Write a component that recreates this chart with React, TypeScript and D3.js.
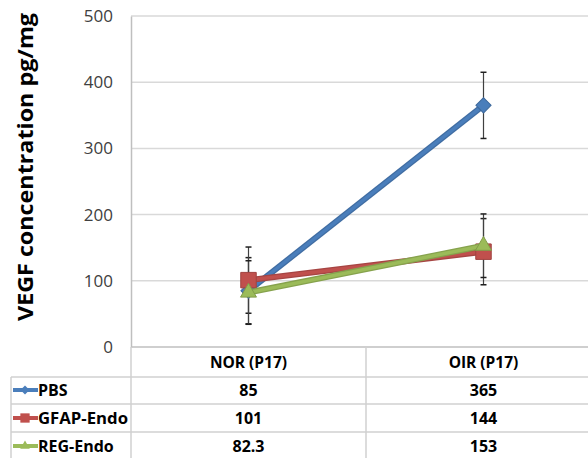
import React, { useEffect, useRef } from "react";
import * as d3 from "d3";

const categories = ["NOR (P17)", "OIR (P17)"];
const seriesNames = ["PBS", "GFAP-Endo", "REG-Endo"];
const pbsValues = [85, 365];
const gfapValues = [101, 144];
const regValues = [82.3, 153];
const pbsErrors = [50, 50];
const gfapErrors = [50, 50];
const regErrors = [48, 48];
const yTicks = [0, 100, 200, 300, 400, 500];
const colors = ["#4a7ebb", "#c0504d", "#9bbb59"];
const markers = ["diamond", "square", "triangle"];

const App = () => {
  const svgRef = useRef<SVGSVGElement>(null);

  useEffect(() => {
    const width = 588, height = 458;
    const left = 131, top = 16, bottom = 347;
    const font = "'Open Sans', sans-serif";

    const svg = d3.select(svgRef.current)
      .attr("width", width)
      .attr("height", height);
    svg.selectAll("*").remove();

    const x = d3.scaleBand().domain(categories).range([left, 601]);
    const y = d3.scaleLinear().domain([0, 500]).range([bottom, top]);
    const cx = (c: string) => (x(c) as number) + x.bandwidth() / 2;

    // gridlines
    svg.append("g")
      .selectAll("line")
      .data(yTicks.slice(1))
      .enter().append("line")
      .attr("x1", left).attr("x2", width)
      .attr("y1", d => y(d)).attr("y2", d => y(d))
      .attr("stroke", "#d9d9d9").attr("stroke-width", 1.5);

    // y axis
    const yAxis = svg.append("g")
      .attr("transform", `translate(${left},0)`)
      .call(d3.axisLeft(y).tickValues(yTicks).tickSize(0).tickPadding(18));
    yAxis.select(".domain").attr("stroke", "#bfbfbf").attr("stroke-width", 1.5);
    yAxis.selectAll("text")
      .attr("font-family", font).attr("font-size", 17).attr("fill", "#404040");

    svg.append("text")
      .attr("transform", `translate(33,${(12 + 322) / 2}) rotate(-90)`)
      .attr("text-anchor", "middle")
      .attr("font-family", font).attr("font-weight", "bold").attr("font-size", 21)
      .attr("textLength", 308).attr("lengthAdjust", "spacingAndGlyphs")
      .attr("fill", "#000")
      .text("VEGF concentration pg/mg");

    // data table
    const rowLines = [377, 404, 432, 460];
    const rowMid = [390, 418, 446];
    const table = svg.append("g");
    table.append("line")
      .attr("x1", left).attr("x2", width).attr("y1", bottom).attr("y2", bottom)
      .attr("stroke", "#bfbfbf").attr("stroke-width", 1.5);
    table.selectAll(".hline")
      .data(rowLines)
      .enter().append("line")
      .attr("x1", 11).attr("x2", width)
      .attr("y1", d => d).attr("y2", d => d)
      .attr("stroke", "#d0d0d0").attr("stroke-width", 1.5);
    table.append("line")
      .attr("x1", 11).attr("x2", 11).attr("y1", 377).attr("y2", height)
      .attr("stroke", "#d0d0d0").attr("stroke-width", 1.5);
    table.append("line")
      .attr("x1", left).attr("x2", left).attr("y1", bottom).attr("y2", height)
      .attr("stroke", "#d0d0d0").attr("stroke-width", 1.5);
    table.append("line")
      .attr("x1", x(categories[1]) as number).attr("x2", x(categories[1]) as number)
      .attr("y1", bottom).attr("y2", height)
      .attr("stroke", "#d0d0d0").attr("stroke-width", 1.5);

    table.selectAll(".cat")
      .data(categories)
      .enter().append("text")
      .attr("x", d => cx(d)).attr("y", 363)
      .attr("dy", "0.35em").attr("text-anchor", "middle")
      .attr("font-family", font).attr("font-weight", "bold").attr("font-size", 15.5)
      .text(d => d);

    const allValues = [pbsValues, gfapValues, regValues];
    const allErrors = [pbsErrors, gfapErrors, regErrors];

    const symbolFor = (m: string) =>
      m === "diamond" ? d3.symbol(d3.symbolSquare, 115)
        : m === "square" ? d3.symbol(d3.symbolSquare, 240)
          : d3.symbol(d3.symbolTriangle, 110);
    const rot = (m: string) => (m === "diamond" ? " rotate(45)" : "");

    seriesNames.forEach((name, s) => {
      const row = table.append("g");
      row.append("line")
        .attr("x1", 13).attr("x2", 38).attr("y1", rowMid[s]).attr("y2", rowMid[s])
        .attr("stroke", colors[s]).attr("stroke-width", 4);
      row.append("path")
        .attr("transform", `translate(25,${rowMid[s]}) scale(0.6)${rot(markers[s])}`)
        .attr("d", symbolFor(markers[s])() as string)
        .attr("fill", colors[s]);
      row.append("text")
        .attr("x", 38).attr("y", rowMid[s]).attr("dy", "0.35em")
        .attr("font-family", font).attr("font-weight", "bold").attr("font-size", 16)
        .attr("textLength", name === "GFAP-Endo" ? 90 : null)
        .attr("lengthAdjust", "spacingAndGlyphs")
        .text(name);
      row.selectAll(".val")
        .data(allValues[s])
        .enter().append("text")
        .attr("x", (d, i) => cx(categories[i])).attr("y", rowMid[s])
        .attr("dy", "0.35em").attr("text-anchor", "middle")
        .attr("font-family", font).attr("font-weight", "bold").attr("font-size", 16)
        .text(d => String(d));
    });

    // error bars
    const errs = svg.append("g");
    allValues.forEach((vals, s) => {
      vals.forEach((v, i) => {
        const px = cx(categories[i]);
        const hi = y(v + allErrors[s][i]);
        const lo = y(v - allErrors[s][i]);
        errs.append("line")
          .attr("x1", px).attr("x2", px).attr("y1", hi).attr("y2", lo)
          .attr("stroke", "#404040").attr("stroke-width", 1.2);
        [hi, lo].forEach(yy => errs.append("line")
          .attr("x1", px - 3).attr("x2", px + 3).attr("y1", yy).attr("y2", yy)
          .attr("stroke", "#202020").attr("stroke-width", 1.5));
      });
    });

    // series lines & markers
    const line = d3.line<number>()
      .x((d, i) => cx(categories[i]))
      .y(d => y(d));
    allValues.forEach((vals, s) => {
      const g = svg.append("g");
      g.append("path")
        .datum(vals)
        .attr("d", line)
        .attr("fill", "none")
        .attr("stroke", d3.color(colors[s])!.darker(0.4).toString())
        .attr("stroke-width", 6);
      g.append("path")
        .datum(vals)
        .attr("d", line)
        .attr("fill", "none")
        .attr("stroke", colors[s])
        .attr("stroke-width", 3.5);
      g.selectAll("path.mark")
        .data(vals)
        .enter().append("path")
        .attr("class", "mark")
        .attr("transform", (d, i) => `translate(${cx(categories[i])},${y(d)})${rot(markers[s])}`)
        .attr("d", symbolFor(markers[s])() as string)
        .attr("fill", colors[s])
        .attr("stroke", d3.color(colors[s])!.darker(0.5).toString())
        .attr("stroke-width", 1);
    });
  }, []);

  return <svg ref={svgRef} style={{ position: "absolute", left: 0, top: 0 }}></svg>;
};

export default App;
